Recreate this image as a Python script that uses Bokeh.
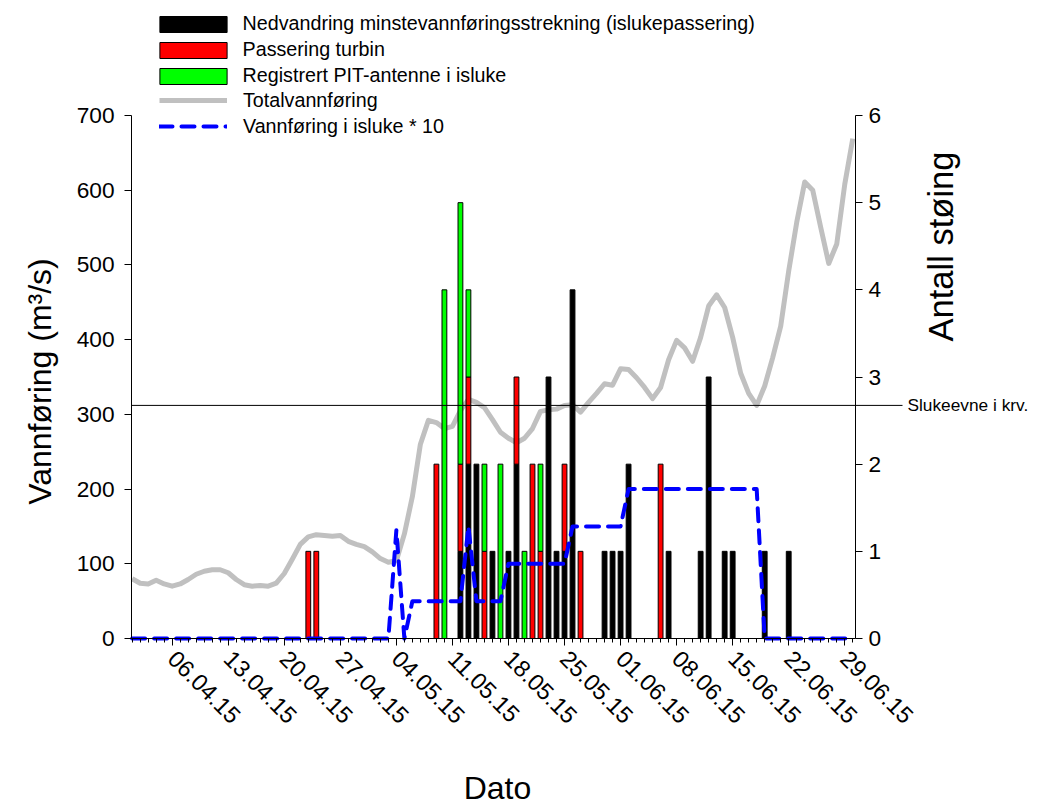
import math
import pandas as pd
from bokeh.plotting import figure
from bokeh.models import (Range1d, LinearAxis, FixedTicker, Legend, LegendItem,
                          Label, ColumnDataSource)
from bokeh.embed import file_html
from bokeh.resources import INLINE

# ---------------- data ----------------
start_date = "01.04.15"
date_tick_labels = ["06.04.15", "13.04.15", "20.04.15", "27.04.15", "04.05.15",
                    "11.05.15", "18.05.15", "25.05.15", "01.06.15", "08.06.15",
                    "15.06.15", "22.06.15", "29.06.15"]
left_ticks = [0, 100, 200, 300, 400, 500, 600, 700]
right_ticks = [0, 1, 2, 3, 4, 5, 6]

# daily total discharge (m3/s) from 01.04.15
total_flow = [80, 74, 73, 78, 73, 70, 73, 79, 86, 90,
              92, 92, 88, 79, 72, 70, 71, 70, 74, 87,
              106, 126, 136, 139, 138, 137, 138, 130, 126, 123,
              116, 107, 102, 104, 140, 190, 260, 292, 289, 281,
              284, 305, 320, 316, 309, 293, 276, 268, 262, 268,
              281, 304, 306, 307, 312, 313, 303, 316, 328, 341,
              339, 361, 360, 349, 336, 321, 336, 373, 399, 389,
              371, 403, 445, 460, 443, 403, 355, 328, 312, 338,
              376, 418, 492, 557, 611, 600, 550, 502, 528, 608,
              669]
# daily discharge in ice sluice * 10 from 01.04.15
isluke_flow_x10 = [0, 0, 0, 0, 0, 0, 0, 0, 0, 0,
                   0, 0, 0, 0, 0, 0, 0, 0, 0, 0,
                   0, 0, 0, 0, 0, 0, 0, 0, 0, 0,
                   0, 0, 0, 145, 0, 50, 50, 50, 50, 50,
                   50, 50, 150, 50, 50, 50, 50, 100, 100, 100,
                   100, 100, 100, 100, 100, 150, 150, 150, 150, 150,
                   150, 150, 200, 200, 200, 200, 200, 200, 200, 200,
                   200, 200, 200, 200, 200, 200, 200, 200, 200, 0,
                   0, 0, 0, 0, 0, 0, 0, 0, 0, 0,
                   0]

bar_dates = ["23.04.15", "24.04.15", "09.05.15", "10.05.15", "12.05.15", "13.05.15",
             "14.05.15", "15.05.15", "16.05.15", "17.05.15", "18.05.15", "19.05.15",
             "20.05.15", "21.05.15", "22.05.15", "23.05.15", "24.05.15", "25.05.15",
             "26.05.15", "27.05.15", "30.05.15", "31.05.15", "01.06.15", "02.06.15",
             "06.06.15", "07.06.15", "11.06.15", "12.06.15", "14.06.15", "15.06.15",
             "19.06.15", "22.06.15"]
nedvandring = [0, 0, 0, 0, 1, 2, 2, 0, 1, 0, 1, 2, 0, 0, 0, 3, 1, 1, 4, 0,
               1, 1, 1, 2, 0, 1, 1, 3, 1, 1, 1, 1]
turbin = [1, 1, 2, 0, 1, 1, 0, 1, 0, 0, 0, 1, 0, 2, 1, 0, 0, 1, 0, 1,
          0, 0, 0, 0, 2, 0, 0, 0, 0, 0, 0, 0]
pit = [0, 0, 0, 4, 3, 1, 0, 1, 0, 2, 0, 0, 1, 0, 1, 0, 0, 0, 0, 0,
       0, 0, 0, 0, 0, 0, 0, 0, 0, 0, 0, 0]
slukeevne = 312

labels = ["Nedvandring minstevannføringsstrekning (islukepassering)",
          "Passering turbin", "Registrert PIT-antenne i isluke",
          "Totalvannføring", "Vannføring i isluke * 10"]
x_title = "Dato"
y_title = "Vannføring (m³/s)"
y2_title = "Antall støing"
ref_title = "Slukeevne i krv."

# ---------------- helpers ----------------
FONT = "Liberation Sans"
t0 = pd.to_datetime(start_date, format="%d.%m.%y")


def day_of(s):
    return int((pd.to_datetime(s, format="%d.%m.%y") - t0).days)


bar_x = [day_of(d) for d in bar_dates]
tick_x = [day_of(d) for d in date_tick_labels]
line_x = list(range(len(total_flow)))


def segs(bottoms, heights):
    xs, bs, ts = [], [], []
    for x, b, h in zip(bar_x, bottoms, heights):
        if h > 0:
            xs.append(x)
            bs.append(b)
            ts.append(b + h)
    return ColumnDataSource(dict(x=xs, bottom=bs, top=ts))


zeros = [0] * len(bar_x)
b_red = [a for a in nedvandring]
b_green = [a + b for a, b in zip(nedvandring, turbin)]

# ---------------- layout geometry (pixels) ----------------
W, H = 1054, 805
AX_LEFT, AX_RIGHT, AX_TOP, AX_BOTTOM = 131, 855, 115, 638
x_lo = -0.08
px_per_day = 8.007
x_hi_axis = x_lo + (AX_RIGHT - AX_LEFT) / px_per_day
# the plotting frame covers the whole canvas; axes sit at fixed places in it
x_start = x_lo - AX_LEFT / px_per_day
x_end = x_lo + (W - AX_LEFT) / px_per_day
ppu = (AX_BOTTOM - AX_TOP) / left_ticks[-1]
y_start = -(H - AX_BOTTOM) / ppu
y_end = AX_BOTTOM / ppu
ppc = (AX_BOTTOM - AX_TOP) / right_ticks[-1]
c_start = -(H - AX_BOTTOM) / ppc
c_end = AX_BOTTOM / ppc
line_end = x_lo + (902 - AX_LEFT) / px_per_day

# ---------------- figure ----------------
p = figure(width=W, height=H, x_range=Range1d(x_start, x_end),
           y_range=Range1d(y_start, y_end), output_backend="svg", toolbar_location=None,
           x_axis_location=None, y_axis_location=None,
           min_border_left=0, min_border_right=0, min_border_top=0, min_border_bottom=0)
p.outline_line_color = None
p.grid.visible = False
p.extra_y_ranges = {"cnt": Range1d(c_start, c_end)}

grey = p.line(line_x, total_flow, line_color="#c0c0c0", line_width=5,
              line_join="round")

bw = 0.6
r_black = p.vbar(x="x", bottom="bottom", top="top", width=bw, source=segs(zeros, nedvandring),
                 fill_color="black", line_color="black", line_width=1, y_range_name="cnt")
r_red = p.vbar(x="x", bottom="bottom", top="top", width=bw, source=segs(b_red, turbin),
               fill_color="#ff0000", line_color="black", line_width=1, y_range_name="cnt")
r_green = p.vbar(x="x", bottom="bottom", top="top", width=bw, source=segs(b_green, pit),
                 fill_color="#00ff00", line_color="black", line_width=1, y_range_name="cnt")

blue = p.line(line_x, isluke_flow_x10, line_color="#0000ff", line_width=4,
              line_dash="13 9", line_cap="round", line_join="round")

# capacity line, extended past the right axis to its label
p.segment(x0=[x_lo], y0=[slukeevne], x1=[line_end], y1=[slukeevne],
          line_color="black", line_width=1)
p.add_layout(Label(x=907, x_units="screen", y=slukeevne, text=ref_title,
                   text_font=FONT, text_font_size="17.3px", text_baseline="middle",
                   text_color="black"))

# ---------------- axes ----------------
xa = LinearAxis(ticker=FixedTicker(ticks=tick_x, minor_ticks=list(range(0, len(total_flow)))),
                fixed_location=0, bounds=(x_lo, x_hi_axis))
xa.major_label_overrides = {int(t): lab for t, lab in zip(tick_x, date_tick_labels)}
xa.major_label_orientation = -math.pi / 4
p.add_layout(xa, "below")

ya = LinearAxis(ticker=FixedTicker(ticks=left_ticks), fixed_location=x_lo,
                bounds=(0, left_ticks[-1]))
p.add_layout(ya, "left")

ra = LinearAxis(y_range_name="cnt", ticker=FixedTicker(ticks=right_ticks),
                fixed_location=x_hi_axis, bounds=(0, right_ticks[-1]))
p.add_layout(ra, "right")

for ax in (xa, ya, ra):
    ax.axis_line_color = "black"
    ax.axis_line_width = 1
    ax.major_tick_line_color = "black"
    ax.major_tick_in = 0
    ax.major_tick_out = 7
    ax.minor_tick_in = 0
    ax.major_label_text_font = FONT
    ax.major_label_text_font_size = "22.7px"
    ax.major_label_text_color = "black"

xa.major_label_text_font_size = "23.5px"
xa.minor_tick_out = 4
xa.minor_tick_line_color = "black"
ya.minor_tick_line_color = None
ra.minor_tick_line_color = None
xa.major_label_standoff = 9
ya.major_label_standoff = 10
ra.major_label_standoff = 6


# ---------------- axis titles ----------------
def title(text, sx, sy, angle, size="32px"):
    return Label(x=sx, y=H - sy, x_units="screen", y_units="screen", text=text,
                 angle=angle, text_align="center", text_baseline="middle",
                 text_font=FONT, text_font_size=size, text_color="black")


p.add_layout(title(x_title, 497, 787, 0))
p.add_layout(title(y_title, 39, 381, math.pi / 2))
p.add_layout(title(y2_title, 940, 246, math.pi / 2, "34.5px"))

# ---------------- legends ----------------
leg1 = Legend(items=[LegendItem(label=labels[0], renderers=[r_black]),
                     LegendItem(label=labels[1], renderers=[r_red]),
                     LegendItem(label=labels[2], renderers=[r_green])],
              location=(150.6, 718), glyph_width=84, glyph_height=20, label_height=20,
              spacing=3, padding=0, margin=0, label_standoff=8)
leg2 = Legend(items=[LegendItem(label=labels[3], renderers=[grey]),
                     LegendItem(label=labels[4], renderers=[blue])],
              location=(159, 667.5), glyph_width=68, glyph_height=20, label_height=20,
              spacing=3, padding=0, margin=0, label_standoff=16)
for lg in (leg1, leg2):
    lg.border_line_alpha = 0
    lg.background_fill_alpha = 0
    lg.label_text_font = FONT
    lg.label_text_font_size = "19.7px"
    lg.label_text_color = "black"
    p.add_layout(lg, "center")

open("out.html", "w").write(file_html(p, INLINE))
